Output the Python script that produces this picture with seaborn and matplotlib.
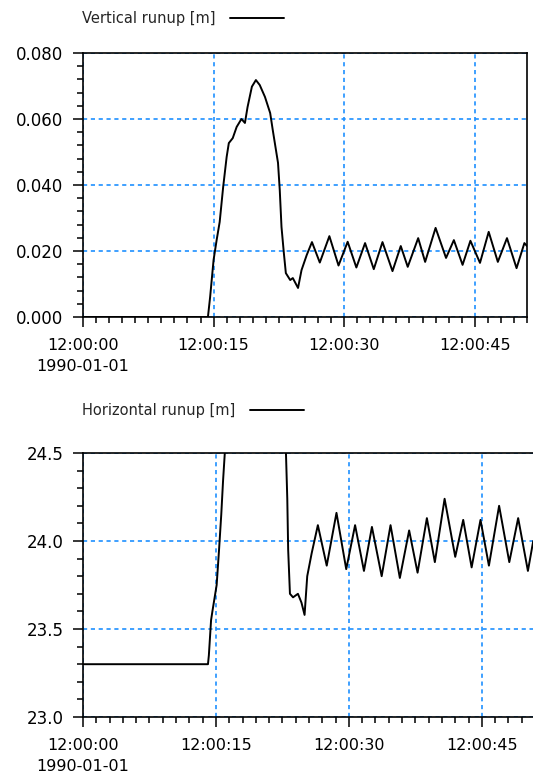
import matplotlib
matplotlib.use("Agg")
import matplotlib.pyplot as plt
from matplotlib.ticker import MultipleLocator, FormatStrFormatter
import seaborn as sns
import pandas as pd

# seconds after 1990-01-01 12:00:00
t_vert = [0, 14.35, 14.6, 15.0, 15.35, 15.7, 16.1, 16.5, 16.75, 17.2, 17.65, 18.2, 18.6, 18.9,
          19.4, 19.86, 20.3, 20.9, 21.5, 21.8, 22.4, 22.6, 22.8, 23.07, 23.3, 23.8, 24.1, 24.7,
          25.1, 25.7, 26.3, 27.2, 28.3, 29.35, 30.4, 31.4, 32.4, 33.4, 34.4, 35.55, 36.5, 37.3,
          38.5, 39.3, 40.5, 41.7, 42.6, 43.6, 44.5, 45.6, 46.6, 47.65, 48.7, 49.8, 50.7, 51.0]
vert_runup = [0, 0, 0.006, 0.0173, 0.0233, 0.0288, 0.0394, 0.0485, 0.0527, 0.0542, 0.0576, 0.060,
              0.0588, 0.0636, 0.0698, 0.0718, 0.0703, 0.0667, 0.0618, 0.0566, 0.0467, 0.0385,
              0.0273, 0.0194, 0.0133, 0.0112, 0.0118, 0.0088, 0.0142, 0.0188, 0.0227, 0.0165,
              0.0245, 0.0156, 0.0228, 0.015, 0.0224, 0.0145, 0.0227, 0.0139, 0.0215, 0.0152,
              0.0239, 0.0167, 0.0270, 0.0179, 0.0233, 0.0158, 0.0231, 0.0164, 0.0258, 0.0167,
              0.0239, 0.0148, 0.0224, 0.0215]

t_horiz = [0, 14.1, 14.2, 14.45, 14.6, 15.08, 15.35, 15.6, 15.8, 16.0, 16.3, 22.6, 22.9, 23.05,
           23.15, 23.35, 23.7, 24.25, 24.65, 25.0, 25.3, 25.8, 26.5, 27.5, 28.6, 29.7, 30.7,
           31.7, 32.6, 33.7, 34.7, 35.75, 36.8, 37.75, 38.8, 39.7, 40.8, 42.0, 42.9, 43.85,
           44.85, 45.8, 46.95, 48.1, 49.1, 50.2, 50.8]
horiz_runup = [23.3, 23.3, 23.35, 23.55, 23.6, 23.75, 23.95, 24.15, 24.34, 24.5, 24.9, 24.9, 24.5,
               24.24, 23.95, 23.70, 23.68, 23.70, 23.65, 23.58, 23.80, 23.93, 24.09, 23.86, 24.16,
               23.84, 24.09, 23.83, 24.08, 23.80, 24.09, 23.79, 24.06, 23.82, 24.13, 23.88, 24.24,
               23.91, 24.12, 23.85, 24.12, 23.86, 24.20, 23.88, 24.13, 23.83, 24.0]

x_ticks = [0, 15, 30, 45]
x_labels = ["12:00:00\n1990-01-01", "12:00:15", "12:00:30", "12:00:45"]

vert = pd.DataFrame({"t": t_vert, "v": vert_runup})
horiz = pd.DataFrame({"t": t_horiz, "v": horiz_runup})

sns.set_theme(style="ticks")
plt.rcParams["font.family"] = ["DejaVu Sans"]

W, H = 533, 780
fig = plt.figure(figsize=(W / 100, H / 100), dpi=100)


def style_axes(ax, legend_y):
    ax.set_xlim(0, 51)
    ax.set_xticks(x_ticks, x_labels)
    ax.xaxis.set_minor_locator(MultipleLocator(1.5))
    for lbl in ax.get_xticklabels():
        lbl.set_linespacing(1.55)
    ax.tick_params(which="major", direction="out", length=7, width=1.1,
                   labelsize=11.5, color="black", labelcolor="black")
    ax.tick_params(axis="x", which="major", pad=8)
    ax.tick_params(axis="y", which="major", pad=7, labelsize=12)
    ax.tick_params(which="minor", direction="out", length=4.5, width=1.1, color="black")
    ax.grid(True, which="major", color="#1E90FF", lw=1.2, linestyle=(0, (2.5, 2.2)))
    ax.set_axisbelow(True)
    for sp in ax.spines.values():
        sp.set_color("black")
        sp.set_linewidth(1.2)
    ax.set_xlabel("")
    ax.set_ylabel("")
    ax.legend(loc="center left", bbox_to_anchor=(82 / W, 1 - legend_y / H),
              bbox_transform=fig.transFigure, frameon=False, markerfirst=False,
              handlelength=3.7, handletextpad=1.0, borderpad=0, borderaxespad=0,
              fontsize=10.5)


ax1 = fig.add_axes([83 / W, 1 - 317 / H, (527 - 83) / W, (317 - 53) / H])
sns.lineplot(data=vert, x="t", y="v", ax=ax1, color="black", lw=1.4,
             label="Vertical runup [m]")
ax1.set_ylim(0, 0.08)
ax1.yaxis.set_major_locator(MultipleLocator(0.02))
ax1.yaxis.set_minor_locator(MultipleLocator(0.004))
ax1.yaxis.set_major_formatter(FormatStrFormatter("%.3f"))
style_axes(ax1, 19)

ax2 = fig.add_axes([83 / W, 1 - 717 / H, (535 - 83) / W, (717 - 453) / H])
sns.lineplot(data=horiz, x="t", y="v", ax=ax2, color="black", lw=1.4,
             label="Horizontal runup [m]")
ax2.set_ylim(23.0, 24.5)
ax2.yaxis.set_major_locator(MultipleLocator(0.5))
ax2.yaxis.set_minor_locator(MultipleLocator(0.1))
ax2.yaxis.set_major_formatter(FormatStrFormatter("%.1f"))
style_axes(ax2, 411)

fig.savefig("out.png", dpi=100, facecolor="white")
